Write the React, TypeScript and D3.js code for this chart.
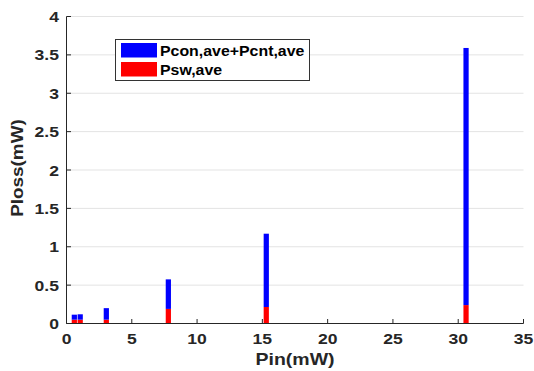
import React from "react";
import * as d3 from "d3";

const pinValues = [0.6, 1.05, 3.05, 7.8, 15.3, 30.6];
const pswValues = [0.05, 0.05, 0.05, 0.19, 0.215, 0.24];
const pconValues = [0.065, 0.07, 0.15, 0.385, 0.955, 3.35];
const seriesNames = ["Pcon,ave+Pcnt,ave", "Psw,ave"];
const seriesColors = ["#0000ff", "#ff0000"];
const xTicks = [0, 5, 10, 15, 20, 25, 30, 35];
const yTicks = [0, 0.5, 1, 1.5, 2, 2.5, 3, 3.5, 4];
const xLabel = "Pin(mW)";
const yLabel = "Ploss(mW)";

export default function App() {
  const W = 534, H = 371;
  const x = d3.scaleLinear().domain([0, 35]).range([66.5, 523.5]);
  const y = d3.scaleLinear().domain([0, 4]).range([323.5, 16.5]);
  const barW = x(0.4) - x(0);
  const font = "'Liberation Sans', Arial, sans-serif";
  const rows = pinValues.map((p, i) => ({ pin: p, psw: pswValues[i], pcon: pconValues[i] }));
  const stack = d3.stack<any>().keys(["psw", "pcon"])(rows);
  const colorFor: Record<string, string> = { psw: seriesColors[1], pcon: seriesColors[0] };
  const tickSx = 1.17;

  return (
    <svg width={W} height={H} style={{ position: "absolute", left: 0, top: 0, background: "#fff" }} fontFamily={font}>
      {yTicks.filter(t => t > 0).map(t => (
        <line key={"g" + t} x1={x(0)} x2={x(35)} y1={y(t)} y2={y(t)} stroke="#e3e3e3" strokeWidth={1} />
      ))}
      {stack.map(layer => (
        <g key={layer.key} fill={colorFor[layer.key]}>
          {layer.map((d, i) => (
            <rect key={i} x={x(rows[i].pin) - barW / 2} width={barW} y={y(d[1])} height={y(d[0]) - y(d[1])} />
          ))}
        </g>
      ))}
      <line x1={x(0)} x2={x(0)} y1={y(0)} y2={y(4)} stroke="#262626" strokeWidth={1} />
      <line x1={x(0)} x2={x(35)} y1={y(0)} y2={y(0)} stroke="#262626" strokeWidth={1} />
      {yTicks.map(t => (
        <g key={"y" + t}>
          <line x1={x(0)} x2={x(0) + 4.5} y1={y(t)} y2={y(t)} stroke="#262626" />
          <text transform={`translate(59,${y(t) + 5.5}) scale(${tickSx},1)`} textAnchor="end" fontSize={15} fontWeight="bold" fill="#262626">{t}</text>
        </g>
      ))}
      {xTicks.map(t => (
        <g key={"x" + t}>
          <line x1={x(t)} x2={x(t)} y1={y(0)} y2={y(0) - 4.5} stroke="#262626" />
          <text transform={`translate(${x(t)},344) scale(${tickSx},1)`} textAnchor="middle" fontSize={15} fontWeight="bold" fill="#262626">{t}</text>
        </g>
      ))}
      <text transform={`translate(${x(17.5)},365) scale(1.22,1)`} textAnchor="middle" fontSize={16} fontWeight="bold" fill="#262626">{xLabel}</text>
      <text transform={`translate(23,168) rotate(-90) scale(1.18,1)`} textAnchor="middle" fontSize={16} fontWeight="bold" fill="#262626">{yLabel}</text>
      <rect x={115.5} y={39.5} width={194} height={41} fill="#fff" stroke="#333" strokeWidth={1} />
      {seriesNames.map((n, i) => (
        <g key={n}>
          <rect x={121} y={43 + i * 19} width={36} height={14.5} fill={seriesColors[i]} />
          <text transform={`translate(160,${56 + i * 18.5}) scale(1.06,1)`} fontSize={15} fontWeight="bold" fill="#000">{n}</text>
        </g>
      ))}
    </svg>
  );
}
